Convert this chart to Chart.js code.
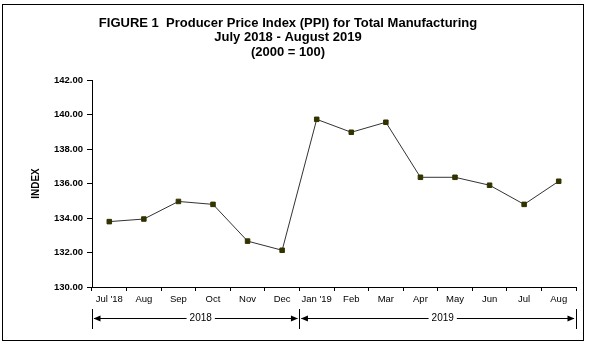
<!DOCTYPE html>
<html>
<head>
<meta charset="utf-8">
<script src="https://cdn.jsdelivr.net/npm/chart.js@4"></script>
<style>
  html, body { margin: 0; padding: 0; background: #fff; }
  #wrap { width: 589px; height: 346px; }
</style>
</head>
<body>
<div id="wrap"><canvas id="c" width="589" height="346"></canvas></div>
<script>
const titleLines = ["FIGURE 1  Producer Price Index (PPI) for Total Manufacturing", "July 2018 - August 2019", "(2000 = 100)"];
const categories = ["Jul '18", "Aug", "Sep", "Oct", "Nov", "Dec", "Jan '19", "Feb", "Mar", "Apr", "May", "Jun", "Jul", "Aug"];
const ppiValues = [133.79, 133.94, 134.96, 134.79, 132.66, 132.13, 139.72, 138.97, 139.55, 136.36, 136.36, 135.90, 134.79, 136.13];
const yearLabels = ["2018", "2019"];
const yearMonthCounts = [6, 8];
const yAxisTitle = "INDEX";
const yMin = 130, yMax = 142, yStep = 2;

const FONT = "'Liberation Sans', Arial, sans-serif";

const framePlugin = {
  id: 'frame',
  beforeDraw(chart) {
    const ctx = chart.ctx;
    ctx.save();
    ctx.fillStyle = '#fff';
    ctx.fillRect(0, 0, chart.width, chart.height);
    ctx.restore();
  },
  afterDraw(chart) {
    const ctx = chart.ctx;
    ctx.save();
    ctx.strokeStyle = '#000';
    ctx.lineWidth = 1;
    ctx.strokeRect(2.5, 4.5, 581, 336);

    // year brackets
    const x = chart.scales.x;
    const half = (x.getPixelForValue(1) - x.getPixelForValue(0)) / 2;
    const y0 = 309, y1 = 329, ya = 318.5;
    let start = 0;
    ctx.font = '10px ' + FONT;
    ctx.textAlign = 'center';
    ctx.textBaseline = 'middle';
    const bounds = [];
    yearMonthCounts.forEach((cnt, i) => {
      const left = x.getPixelForValue(start) - half;
      const right = x.getPixelForValue(start + cnt - 1) + half;
      bounds.push(left, right);
      const mid = (left + right) / 2 + 5;
      const tw = ctx.measureText(yearLabels[i]).width;
      ctx.fillStyle = '#000';
      ctx.fillText(yearLabels[i], mid, ya);
      ctx.strokeStyle = '#000';
      ctx.lineWidth = 1;
      ctx.beginPath();
      ctx.moveTo(left + 2, ya); ctx.lineTo(mid - tw / 2 - 3, ya);
      ctx.moveTo(mid + tw / 2 + 3, ya); ctx.lineTo(right - 2, ya);
      ctx.stroke();
      ctx.beginPath();
      ctx.moveTo(left + 1.5, ya); ctx.lineTo(left + 8.5, ya - 3); ctx.lineTo(left + 8.5, ya + 3); ctx.closePath();
      ctx.moveTo(right - 1.5, ya); ctx.lineTo(right - 8.5, ya - 3); ctx.lineTo(right - 8.5, ya + 3); ctx.closePath();
      ctx.fill();
      start += cnt;
    });
    const uniq = [...new Set(bounds.map(b => Math.round(b)))];
    ctx.beginPath();
    uniq.forEach(b => { ctx.moveTo(b + 0.5, y0); ctx.lineTo(b + 0.5, y1); });
    ctx.stroke();
    ctx.restore();
  }
};

new Chart(document.getElementById('c'), {
  type: 'line',
  data: {
    labels: categories,
    datasets: [{
      data: ppiValues,
      borderColor: '#333333',
      borderWidth: 1,
      backgroundColor: '#333300',
      pointStyle: 'rect',
      pointRadius: 3.2,
      pointHoverRadius: 3.2,
      pointBorderColor: '#333300',
      pointBackgroundColor: '#333300',
      tension: 0,
      fill: false
    }]
  },
  options: {
    responsive: false,
    animation: false,
    devicePixelRatio: 1,
    layout: { padding: { left: 0, right: 13, top: 0, bottom: 0 } },
    plugins: {
      legend: { display: false },
      tooltip: { enabled: false },
      title: {
        display: true,
        text: titleLines,
        color: '#000',
        font: { family: FONT, size: 13, weight: 'bold', lineHeight: '14.5px' },
        padding: { top: 16, bottom: 20.5 }
      }
    },
    scales: {
      x: {
        offset: true,
        afterFit(s) { s.height = 59; },
        grid: { display: true, offset: true, drawOnChartArea: false, drawTicks: true, tickLength: 4, color: '#000', lineWidth: 1 },
        border: { display: true, color: '#000', width: 1 },
        ticks: { color: '#000', font: { family: FONT, size: 9.5 }, padding: 3, maxRotation: 0, autoSkip: false }
      },
      y: {
        min: yMin, max: yMax,
        afterFit(s) { s.width = 92; },
        grid: { display: true, drawOnChartArea: false, drawTicks: true, tickLength: 5, color: '#000', lineWidth: 1 },
        border: { display: true, color: '#000', width: 1 },
        ticks: { stepSize: yStep, color: '#000', font: { family: FONT, size: 9.5, weight: 'bold' }, padding: 4,
          callback: v => Number(v).toFixed(2) },
        title: { display: true, text: yAxisTitle, color: '#000', font: { family: FONT, size: 10, weight: 'bold' }, padding: { top: 30, bottom: 0 } }
      }
    }
  },
  plugins: [framePlugin]
});
</script>
</body>
</html>
